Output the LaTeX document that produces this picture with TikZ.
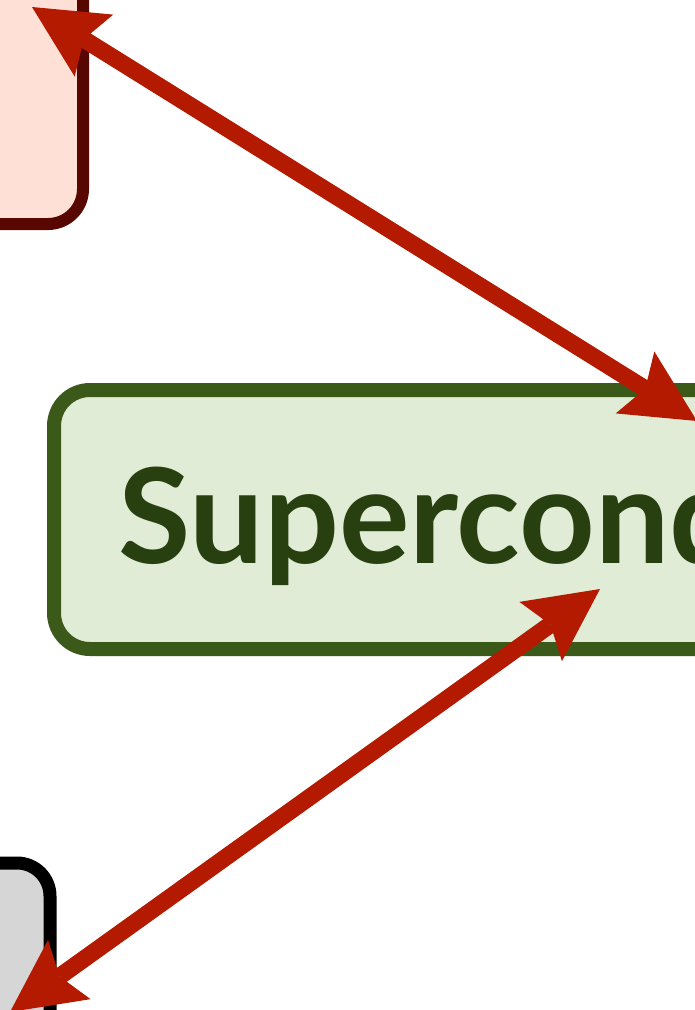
\documentclass[tikz,border=0pt]{standalone}
\usepackage{fontspec}
\newfontfamily\lblfont{Lato}
\usetikzlibrary{arrows.meta}
\definecolor{pinkfill}{HTML}{FFE0D6}
\definecolor{pinkline}{HTML}{580600}
\definecolor{greenfill}{HTML}{E0ECD5}
\definecolor{greenline}{HTML}{3B5A1A}
\definecolor{greentext}{HTML}{283F10}
\definecolor{grayfill}{HTML}{D6D6D6}
\definecolor{arrowred}{HTML}{B41A00}
\begin{document}
\begin{tikzpicture}[x=1pt,y=-1pt,
  box/.style={rounded corners=35pt, line width=13pt, outer sep=0pt, inner sep=0pt},
  tip/.style={},
  link/.style={arrowred, line width=17pt,
    {Stealth[length=73pt,width=73pt,inset=12pt,line width=0pt]}-{Stealth[length=73pt,width=73pt,inset=12pt,line width=0pt]}}]
\useasboundingbox (0,0) rectangle (695,1010);
\clip (0,0) rectangle (695,1010);
\node[box, draw=pinkline, fill=pinkfill, line width=12pt, minimum width=300pt, minimum height=330pt, anchor=south east] (pink) at (83,224) {};
\node[box, draw=greenline, fill=greenfill, line width=14pt, rounded corners=36pt, minimum width=700pt, minimum height=259pt, anchor=north west] (sc) at (54,390) {};
\node[anchor=base west, text=greentext, inner sep=0pt, font=\lblfont\bfseries\fontsize{132}{150}\selectfont] (sctext) at (118,563) {Supercond};
\node[box, draw=black, fill=grayfill, rounded corners=33pt, minimum width=300pt, minimum height=300pt, anchor=north east] (gray) at (50,863) {};
\coordinate (a1) at (32,7);
\coordinate (b1) at (697,421);
\coordinate (a2) at (600,589);
\coordinate (b2) at (10,1012);
\draw[link] (a1) -- (b1);
\draw[link] (a2) -- (b2);
\end{tikzpicture}
\end{document}
